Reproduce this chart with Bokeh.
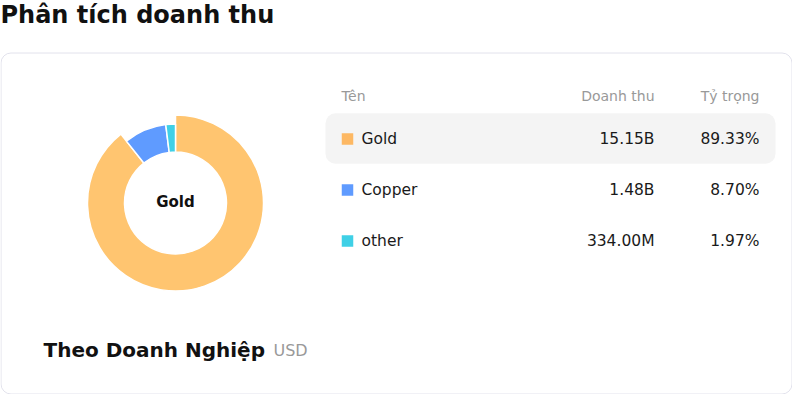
import math
from bokeh.plotting import figure
from bokeh.models import Range1d, ColumnDataSource
from bokeh.core.properties import value
from bokeh.embed import file_html
from bokeh.resources import INLINE

# ---- data ----
categories = ["Gold", "Copper", "other"]
revenue_labels = ["15.15B", "1.48B", "334.00M"]
share = [89.33, 8.70, 1.97]
share_labels = ["89.33%", "8.70%", "1.97%"]
pie_colors = ["#FFC570", "#5F9BFF", "#3FD0E6"]
legend_colors = ["#FDB863", "#5F9BFF", "#3FD0E6"]
title = "Phân tích doanh thu"
subtitle = "Theo Doanh Nghiệp"
unit = "USD"
headers = ["Tên", "Doanh thu", "Tỷ trọng"]
highlight = "Gold"

W, H = 792, 394
FONT = value("DejaVu Sans")

p = figure(width=W, height=H, x_range=Range1d(0, W), y_range=Range1d(0, H),
           output_backend="svg", toolbar_location=None, min_border=0)
p.axis.visible = False
p.xgrid.visible = False
p.ygrid.visible = False
p.outline_line_color = None
p.background_fill_color = "white"
p.border_fill_color = "white"

def Y(px):
    return H - px

# card
p.rect(x=396, y=Y(223), width=791, height=341, fill_color="white",
       line_color="#E2E2EC", line_width=1, border_radius=10)

# title
p.text(x=[0], y=[Y(14.5)], text=[title], text_font=FONT, text_font_size="24px",
       text_font_style="bold", text_color="#111111", text_baseline="middle", text_align="left")

# donut
cx, cy = 175, Y(202.5)
total = sum(share)
starts, ends, outer = [], [], []
cum = 0.0
for c, s in zip(categories, share):
    a0 = math.pi / 2 - 2 * math.pi * cum / total
    cum += s
    a1 = math.pi / 2 - 2 * math.pi * cum / total
    starts.append(a0)
    ends.append(a1)
    outer.append(88 if c == highlight else 79)
src = ColumnDataSource(dict(start=starts, end=ends, outer=outer, color=pie_colors))
p.annular_wedge(x=cx, y=cy, inner_radius=51, outer_radius="outer", start_angle="start",
                end_angle="end", direction="clock", fill_color="color", line_color="white",
                line_width=1.5, source=src)
p.text(x=[cx], y=[Y(201.5)], text=[highlight], text_font=FONT, text_font_size="15px",
       text_font_style="bold", text_color="#111111", text_baseline="middle", text_align="center")

# subtitle
p.text(x=[43], y=[Y(349)], text=[subtitle], text_font=FONT, text_font_size="20px",
       text_font_style="bold", text_color="#111111", text_baseline="middle", text_align="left")
p.text(x=[273], y=[Y(349.5)], text=[unit], text_font=FONT, text_font_size="16px",
       text_color="#999999", text_baseline="middle", text_align="left")

# table header
hx = [341, 654, 759]
ha = ["left", "right", "right"]
for t, x, a in zip(headers, hx, ha):
    p.text(x=[x], y=[Y(95)], text=[t], text_font=FONT, text_font_size="14px",
           text_color="#999999", text_baseline="middle", text_align=a)

# rows
row_y = [138.5, 189.5, 240.5]
p.rect(x=550, y=Y(138), width=450, height=50.5, fill_color="#F4F4F4", line_color=None,
       border_radius=10)
for i, c in enumerate(categories):
    yy = Y(row_y[i])
    p.rect(x=347, y=yy, width=11.5, height=11.5, fill_color=legend_colors[i], line_color=None)
    p.text(x=[361], y=[yy], text=[c], text_font=FONT, text_font_size="15.5px",
           text_color="#1A1A1A", text_baseline="middle", text_align="left")
    p.text(x=[654], y=[yy], text=[revenue_labels[i]], text_font=FONT, text_font_size="15.5px",
           text_color="#1A1A1A", text_baseline="middle", text_align="right")
    p.text(x=[759], y=[yy], text=[share_labels[i]], text_font=FONT, text_font_size="15.5px",
           text_color="#1A1A1A", text_baseline="middle", text_align="right")

open("out.html", "w").write(file_html(p, INLINE))
